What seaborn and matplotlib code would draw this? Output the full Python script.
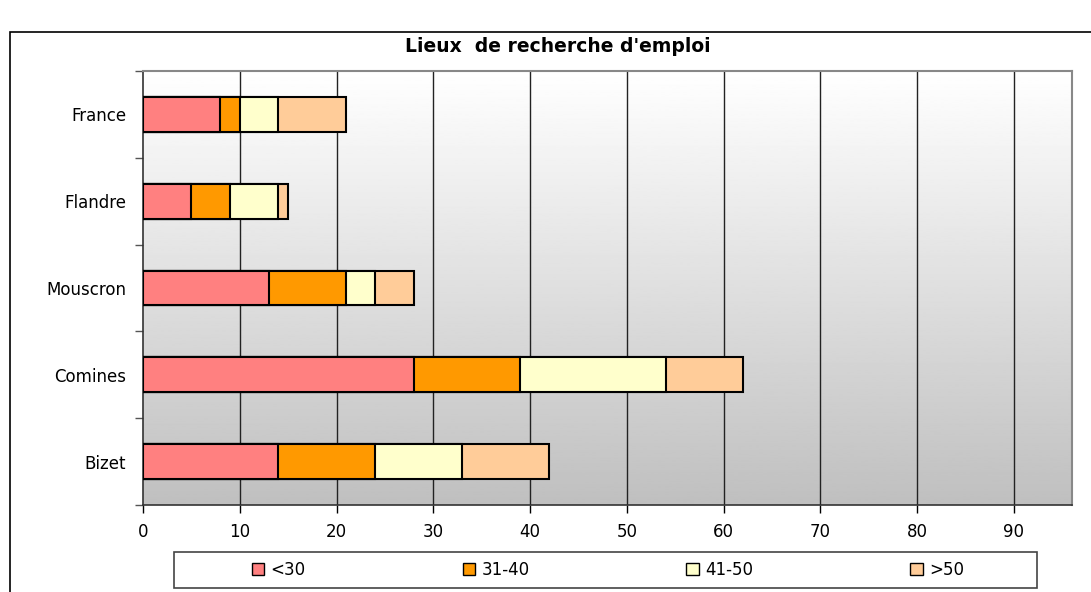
import numpy as np
import pandas as pd
import matplotlib
matplotlib.use("Agg")
import matplotlib.pyplot as plt
from matplotlib.patches import Rectangle, Patch
import seaborn as sns

categories = ["France", "Flandre", "Mouscron", "Comines", "Bizet"]
series_names = ["<30", "31-40", "41-50", ">50"]
v_lt30 = [8, 5, 13, 28, 14]
v_31_40 = [2, 4, 8, 11, 10]
v_41_50 = [4, 5, 3, 15, 9]
v_gt50 = [7, 1, 4, 8, 9]
colors = ["#FF8080", "#FF9900", "#FFFFCC", "#FFCC99"]
title = "Lieux  de recherche d'emploi"
xticks = [0, 10, 20, 30, 40, 50, 60, 70, 80, 90]

sns.set_theme(style="white")
plt.rcParams['font.family'] = ['DejaVu Sans']
plt.rcParams['text.color'] = 'black'
plt.rcParams['xtick.color'] = 'black'
plt.rcParams['ytick.color'] = 'black'
plt.rcParams['axes.labelcolor'] = 'black'

df = pd.DataFrame({"cat": categories, "<30": v_lt30, "31-40": v_31_40,
                   "41-50": v_41_50, ">50": v_gt50})
cum = df[series_names].cumsum(axis=1)

fig = plt.figure(figsize=(10.91, 5.92), dpi=100)
W, H = 1091, 592
ax = fig.add_axes([143 / W, 1 - 505 / H, (1072 - 143) / W, (505 - 71) / H])

# gradient background
grad = np.linspace(1.0, 0.75, 256).reshape(-1, 1)
ax.imshow(grad, cmap="gray", vmin=0, vmax=1, aspect="auto",
          extent=[0, 1, 0, 1], transform=ax.transAxes, zorder=0)

for name, col in reversed(list(zip(series_names, colors))):
    sns.barplot(x=cum[name], y=df["cat"], orient="h", color=col,
                edgecolor="black", linewidth=1.5, width=0.4, ax=ax,
                saturation=1, zorder=3)

ax.set_xlim(0, 96)
ax.set_ylim(4.5, -0.5)
ax.set_xticks(xticks)
ax.set_xticklabels([str(t) for t in xticks], fontsize=12, color="black")
ax.set_yticks(range(len(categories)))
ax.set_yticklabels(categories, fontsize=12, color="black")
ax.set_yticks(np.arange(-0.5, 5, 1), minor=True)
ax.tick_params(axis="y", which="major", length=0, pad=12)
ax.tick_params(axis="y", which="minor", length=6, width=1, color="#555555", direction="out", left=True)
ax.tick_params(axis="x", which="major", length=6, width=1, color="black", direction="out", bottom=True, pad=7)
ax.set_xlabel("")
ax.set_ylabel("")
ax.grid(False)
for x in xticks[1:]:
    ax.axvline(x, color="#222222", linewidth=1, zorder=1)
for s in ["top", "right"]:
    ax.spines[s].set_color("#888888")
    ax.spines[s].set_linewidth(1.5)
for s in ["left", "bottom"]:
    ax.spines[s].set_color("#333333")
    ax.spines[s].set_linewidth(1.2)
if ax.legend_:
    ax.legend_.remove()

# outer frame
fig.patches.append(Rectangle((10 / W, -0.05), 1.1, 1 - 32 / H + 0.05, transform=fig.transFigure,
                             fill=False, edgecolor="black", linewidth=1.2))

fig.text(558 / W, 1 - 46 / H, title, ha="center", va="center",
         fontsize=13.5, fontweight="bold", color="black")

# legend box
fig.patches.append(Rectangle((174 / W, 1 - 588 / H), (1037 - 174) / W, 36 / H,
                             transform=fig.transFigure, facecolor="white",
                             edgecolor="#444444", linewidth=1.2, zorder=5))
handles = [Patch(facecolor=c, edgecolor="black", linewidth=1) for c in colors]
leg = fig.legend(handles, series_names, ncol=4, loc="center",
                 bbox_to_anchor=(608 / W, 1 - 570 / H),
                 fontsize=12, frameon=False,
                 handlelength=0.75, handleheight=0.75, handletextpad=0.4,
                 columnspacing=9.4, borderaxespad=0)
leg.set_zorder(6)
for t in leg.get_texts():
    t.set_color("black")

fig.savefig("out.png", dpi=100)
